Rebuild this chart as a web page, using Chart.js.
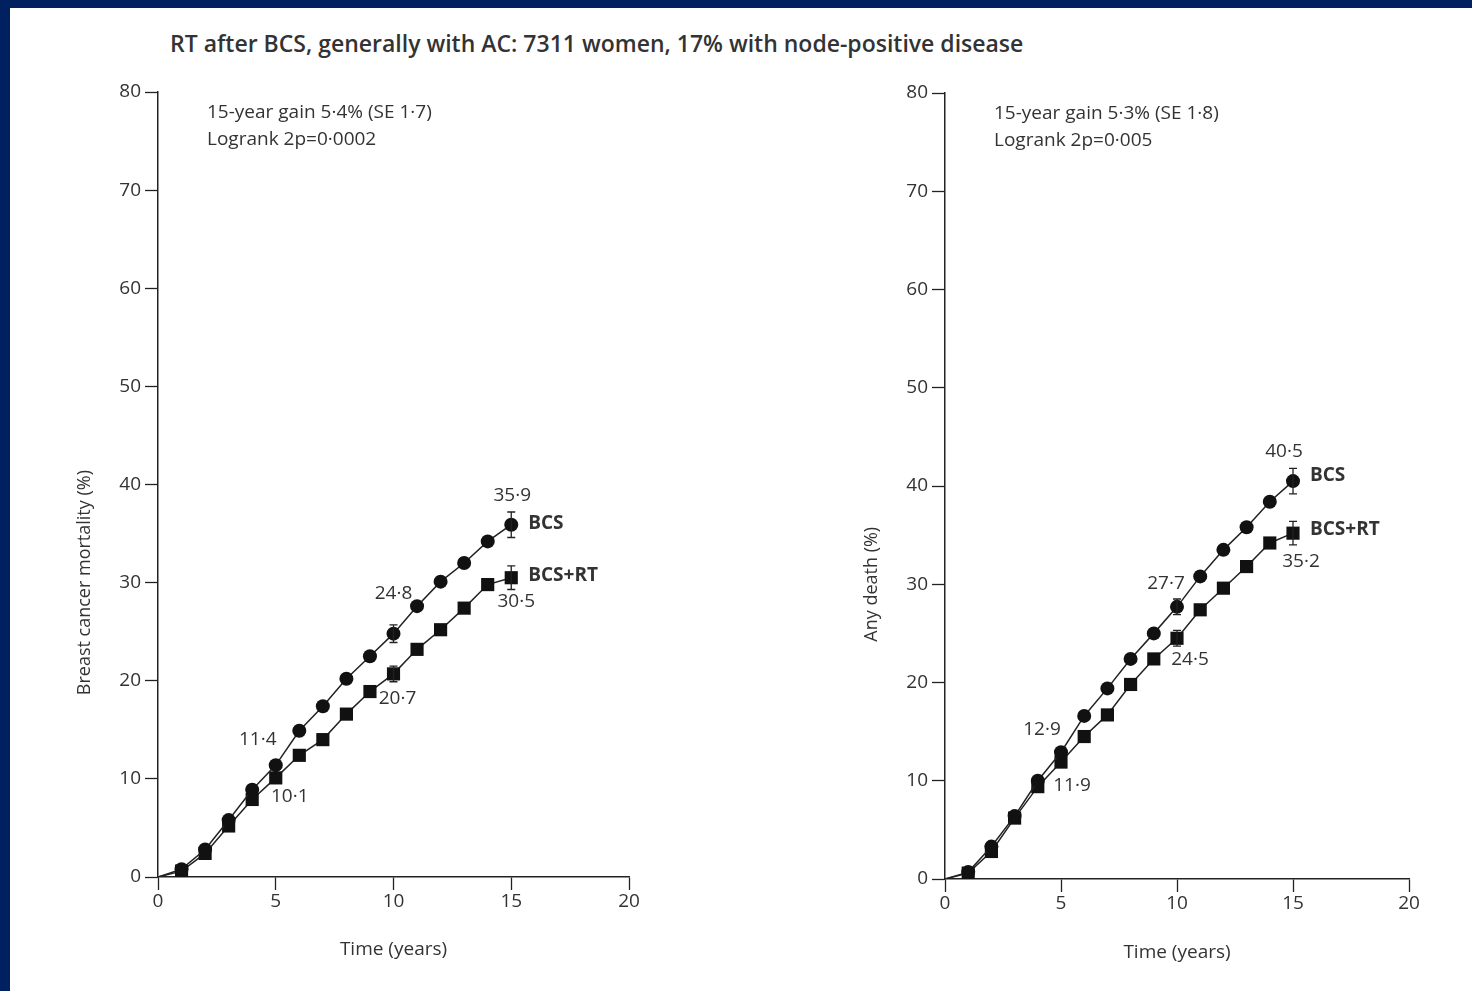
<!DOCTYPE html>
<html>
<head>
<meta charset="utf-8">
<script src="https://cdn.jsdelivr.net/npm/chart.js@4.4.1/dist/chart.umd.min.js"></script>
<style>
  html, body { margin: 0; padding: 0; }
  body { width: 1472px; height: 991px; background: #002060; position: relative; overflow: hidden; }
  #sheet { position: absolute; left: 10px; top: 8px; width: 1462px; height: 983px; background: #fff; }
  #title { position: absolute; left: 160px; top: 19px; font: 600 23px "Open Sans", sans-serif; color: #333; white-space: nowrap; }
  canvas { position: absolute; top: 0; }
  #left { left: 0; }
  #right { left: 710px; }
</style>
</head>
<body>
<div id="sheet">
  <div id="title">RT after BCS, generally with AC: 7311 women, 17% with node-positive disease</div>
  <canvas id="left" width="700" height="983"></canvas>
  <canvas id="right" width="752" height="983"></canvas>
</div>
<script>
var years = [0, 1, 2, 3, 4, 5, 6, 7, 8, 9, 10, 11, 12, 13, 14, 15];

// left panel: breast cancer mortality (%)
var leftBcs = [0, 0.8, 2.8, 5.8, 8.9, 11.4, 14.9, 17.4, 20.2, 22.5, 24.8, 27.6, 30.1, 32.0, 34.2, 35.9];
var leftBcsRt = [0, 0.6, 2.4, 5.2, 7.9, 10.1, 12.4, 14.0, 16.6, 18.9, 20.7, 23.2, 25.2, 27.4, 29.8, 30.5];

// right panel: any death (%)
var rightBcs = [0, 0.7, 3.3, 6.4, 10.0, 12.9, 16.6, 19.4, 22.4, 25.0, 27.7, 30.8, 33.5, 35.8, 38.4, 40.5];
var rightBcsRt = [0, 0.6, 2.8, 6.2, 9.4, 11.9, 14.5, 16.7, 19.8, 22.4, 24.5, 27.4, 29.6, 31.8, 34.2, 35.2];

// error bars (± 1 SE) at these years
var errYears = [10, 15];
var leftBcsErr = [0.9, 1.3];
var leftBcsRtErr = [0.8, 1.2];
var rightBcsErr = [0.8, 1.3];
var rightBcsRtErr = [0.8, 1.2];

// years whose values are printed next to the points
var labelYears = [5, 10, 15];

var xTicks = [0, 5, 10, 15, 20];
var yTicks = [0, 10, 20, 30, 40, 50, 60, 70, 80];

var ink = '#222';
var font = '"Open Sans", sans-serif';

function fmt(v) {
  return v.toFixed(1).replace('.', '\u00b7');
}

function pts(vals) {
  return years.map(function (y, i) { return { x: y, y: vals[i] }; });
}

// draws the SE bars, printed values, series names, y title and the gain/logrank text
var extrasPlugin = {
  id: 'extras',
  afterDatasetsDraw: function (chart, args, opts) {
    var c = chart.ctx, xs = chart.scales.x, ys = chart.scales.y;
    c.save();
    c.strokeStyle = ink;
    c.lineWidth = 1.3;
    opts.errors.forEach(function (e) {
      var vals = chart.data.datasets[e.ds].data;
      errYears.forEach(function (yr, k) {
        var v = vals[years.indexOf(yr)].y;
        var px = xs.getPixelForValue(yr);
        var top = ys.getPixelForValue(v + e.se[k]);
        var bot = ys.getPixelForValue(v - e.se[k]);
        c.beginPath();
        c.moveTo(px, top); c.lineTo(px, bot);
        c.moveTo(px - 4, top); c.lineTo(px + 4, top);
        c.moveTo(px - 4, bot); c.lineTo(px + 4, bot);
        c.stroke();
      });
    });

    c.fillStyle = '#333';
    c.font = '19px ' + font;
    c.textAlign = 'center';
    c.textBaseline = 'middle';
    opts.values.forEach(function (s) {
      var vals = chart.data.datasets[s.ds].data;
      labelYears.forEach(function (yr, k) {
        var v = vals[years.indexOf(yr)].y;
        c.fillText(fmt(v), xs.getPixelForValue(yr) + s.off[k][0], ys.getPixelForValue(v) + s.off[k][1]);
      });
    });

    // y axis title, centred on the 30% line as in the journal figure
    c.save();
    c.font = '18px ' + font;
    c.translate(opts.yTitleX, ys.getPixelForValue(30));
    c.rotate(-Math.PI / 2);
    c.fillText(opts.yTitle, 0, 0);
    c.restore();

    c.font = 'bold 19px ' + font;
    c.textAlign = 'left';
    chart.data.datasets.forEach(function (ds, i) {
      var last = ds.data[ds.data.length - 1];
      c.fillText(ds.label, xs.getPixelForValue(last.x) + 17, ys.getPixelForValue(last.y) + opts.nameDy[i]);
    });

    c.font = '19px ' + font;
    opts.note.forEach(function (line, i) {
      c.fillText(line, chart.chartArea.left + 49, chart.chartArea.top + 21 + i * 27);
    });
    c.restore();
  }
};

function makeChart(id, cfg) {
  new Chart(document.getElementById(id), {
    type: 'line',
    data: {
      datasets: [{
        label: 'BCS',
        data: pts(cfg.bcs),
        pointStyle: 'circle',
        pointRadius: function (ctx) { return ctx.dataIndex === 0 ? 0 : 7; }
      }, {
        label: 'BCS+RT',
        data: pts(cfg.bcsRt),
        pointStyle: 'rect',
        pointRadius: function (ctx) { return ctx.dataIndex === 0 ? 0 : 9.3; }
      }].map(function (d) {
        d.borderColor = ink;
        d.borderWidth = 1.5;
        d.backgroundColor = '#111';
        d.pointBorderWidth = 0;
        d.tension = 0;
        return d;
      })
    },
    options: {
      responsive: false,
      devicePixelRatio: 1,
      animation: false,
      layout: { padding: cfg.padding },
      plugins: {
        legend: { display: false },
        tooltip: { enabled: false },
        extras: cfg.extras
      },
      scales: {
        x: {
          type: 'linear',
          min: 0,
          max: 20,
          afterBuildTicks: function (s) { s.ticks = xTicks.map(function (v) { return { value: v }; }); },
          afterFit: function (s) { s.height = cfg.xHeight; },
          grid: { drawOnChartArea: false, drawTicks: true, tickLength: 13, color: ink, tickWidth: 1.3 },
          border: { color: ink, width: 1.5 },
          ticks: { color: '#333', font: { family: font, size: 19 }, padding: 0, maxRotation: 0 },
          title: { display: true, text: 'Time (years)', color: '#333', font: { family: font, size: 19 }, padding: { top: 0, bottom: cfg.xTitlePad } }
        },
        y: {
          min: 0,
          max: 80,
          afterBuildTicks: function (s) { s.ticks = yTicks.map(function (v) { return { value: v }; }); },
          afterFit: function (s) { s.width = cfg.yWidth; },
          grid: { drawOnChartArea: false, drawTicks: true, tickLength: 13, color: ink, tickWidth: 1.3 },
          border: { color: ink, width: 1.5 },
          ticks: { color: '#333', font: { family: font, size: 19 }, padding: 4 }
        }
      }
    },
    plugins: [extrasPlugin]
  });
}

makeChart('left', {
  bcs: leftBcs,
  bcsRt: leftBcsRt,
  padding: { left: 64, top: 84, right: 81, bottom: 0 },
  yWidth: 84,
  xHeight: 114,
  xTitlePad: 30,
  extras: {
    yTitle: 'Breast cancer mortality (%)',
    yTitleX: 75,
    errors: [{ ds: 0, se: leftBcsErr }, { ds: 1, se: leftBcsRtErr }],
    values: [
      { ds: 0, off: [[-18, -26], [0, -40], [1, -29]] },
      { ds: 1, off: [[14, 19], [4, 25], [5, 24]] }
    ],
    nameDy: [-1, -2],
    note: ['15-year gain 5\u00b74% (SE 1\u00b77)', 'Logrank 2p=0\u00b70002']
  }
});

makeChart('right', {
  bcs: rightBcs,
  bcsRt: rightBcsRt,
  padding: { left: 140, top: 85, right: 63, bottom: 0 },
  yWidth: 85,
  xHeight: 112,
  xTitlePad: 27,
  extras: {
    yTitle: 'Any death (%)',
    yTitleX: 152,
    errors: [{ ds: 0, se: rightBcsErr }, { ds: 1, se: rightBcsRtErr }],
    values: [
      { ds: 0, off: [[-19, -23], [-11, -23], [-9, -29]] },
      { ds: 1, off: [[11, 24], [13, 21], [8, 28]] }
    ],
    nameDy: [-5, -4],
    note: ['15-year gain 5\u00b73% (SE 1\u00b78)', 'Logrank 2p=0\u00b7005']
  }
});
</script>
</body>
</html>
